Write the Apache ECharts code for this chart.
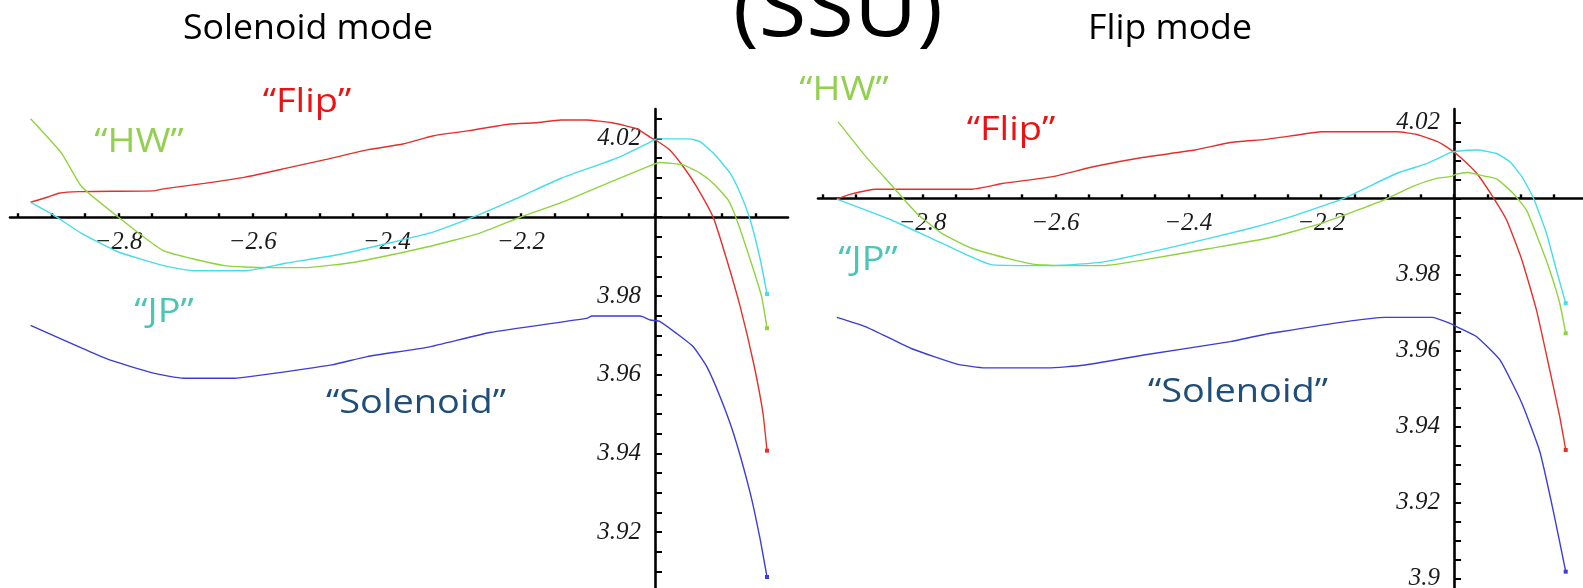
<!DOCTYPE html>
<html><head><meta charset="utf-8">
<script src="https://cdn.jsdelivr.net/npm/echarts@6/dist/echarts.min.js"></script>
<style>html,body{margin:0;padding:0;background:#fff}#c{width:1583px;height:588px}</style>
</head><body><div id="c"></div>
<script>
// ---------- DATA (x, y) ----------
// Left panel: "Solenoid mode"
const solFlip = [[-2.931,4.0038],[-2.904,4.0052],[-2.889,4.0061],[-2.859,4.0065],[-2.748,4.0067],[-2.733,4.0072],[-2.672,4.0086],[-2.611,4.0102],[-2.551,4.0124],[-2.490,4.0147],[-2.429,4.0171],[-2.376,4.0186],[-2.330,4.0207],[-2.277,4.0220],[-2.216,4.0237],[-2.178,4.0240],[-2.140,4.0247],[-2.102,4.0247],[-2.064,4.0240],[-2.026,4.0224],[-2.007,4.0203],[-1.998,4.0195],[-1.978,4.0171],[-1.958,4.0129],[-1.938,4.0078],[-1.913,3.9999],[-1.893,3.9892],[-1.873,3.9773],[-1.853,3.9629],[-1.839,3.9502],[-1.833,3.9407]];
const solJP = [[-2.931,4.0038],[-2.897,4.0006],[-2.855,3.9959],[-2.802,3.9913],[-2.733,3.9877],[-2.688,3.9864],[-2.611,3.9864],[-2.551,3.9883],[-2.475,3.9904],[-2.398,3.9934],[-2.330,3.9963],[-2.269,4.0002],[-2.201,4.0052],[-2.140,4.0099],[-2.056,4.0151],[-2.0,4.0197],[-1.9975,4.0199],[-1.948,4.0199],[-1.933,4.0192],[-1.913,4.0163],[-1.888,4.0112],[-1.873,4.0061],[-1.858,3.9993],[-1.843,3.9892],[-1.833,3.9805]];
const solHW = [[-2.931,4.0250],[-2.885,4.0163],[-2.855,4.0078],[-2.800,4.0000],[-2.733,3.9915],[-2.642,3.9877],[-2.581,3.9872],[-2.520,3.9872],[-2.444,3.9887],[-2.338,3.9925],[-2.262,3.9959],[-2.201,4.0000],[-2.140,4.0037],[-2.056,4.0097],[-2.007,4.0131],[-1.9925,4.0139],[-1.958,4.0133],[-1.933,4.0112],[-1.913,4.0086],[-1.891,4.0044],[-1.878,3.9993],[-1.858,3.9892],[-1.841,3.9798],[-1.833,3.9718]];
const solSol = [[-2.931,3.9725],[-2.817,3.9640],[-2.748,3.9604],[-2.703,3.9591],[-2.627,3.9591],[-2.596,3.9597],[-2.482,3.9625],[-2.429,3.9646],[-2.338,3.9670],[-2.246,3.9707],[-2.102,3.9743],[-2.094,3.9749],[-2.022,3.9749],[-2.007,3.9739],[-1.9925,3.9735],[-1.968,3.9705],[-1.943,3.9671],[-1.923,3.9621],[-1.903,3.9544],[-1.883,3.9451],[-1.858,3.9299],[-1.843,3.9180],[-1.833,3.9086]];
// Right panel: "Flip mode"
const flpFlip = [[-2.929,3.9998],[-2.908,4.0011],[-2.870,4.0024],[-2.725,4.0024],[-2.680,4.0039],[-2.604,4.0057],[-2.543,4.0083],[-2.467,4.0108],[-2.390,4.0127],[-2.337,4.0147],[-2.284,4.0155],[-2.238,4.0166],[-2.200,4.0175],[-2.086,4.0175],[-2.056,4.0168],[-2.025,4.0149],[-2.006,4.0129],[-1.991,4.0109],[-1.966,4.0066],[-1.941,4.0002],[-1.921,3.9943],[-1.898,3.9838],[-1.876,3.9706],[-1.856,3.9548],[-1.841,3.9426],[-1.832,3.9338]];
const flpJP = [[-2.929,3.9998],[-2.847,3.9943],[-2.771,3.9882],[-2.695,3.9825],[-2.604,3.9823],[-2.527,3.9833],[-2.421,3.9873],[-2.314,3.9918],[-2.238,3.9956],[-2.166,4.0000],[-2.086,4.0066],[-2.040,4.0092],[-2.006,4.0120],[-1.996,4.0124],[-1.966,4.0127],[-1.936,4.0118],[-1.916,4.0096],[-1.898,4.0057],[-1.881,4.0002],[-1.861,3.9908],[-1.846,3.9811],[-1.832,3.9724]];
const flpHW = [[-2.927,4.0201],[-2.885,4.0109],[-2.847,4.0035],[-2.809,3.9961],[-2.771,3.9908],[-2.725,3.9868],[-2.672,3.9842],[-2.634,3.9827],[-2.596,3.9823],[-2.527,3.9823],[-2.467,3.9838],[-2.368,3.9868],[-2.276,3.9897],[-2.200,3.9934],[-2.105,3.9996],[-2.063,4.0031],[-2.025,4.0053],[-2.006,4.0057],[-1.996,4.0064],[-1.979,4.0068],[-1.956,4.0059],[-1.936,4.0051],[-1.911,4.0013],[-1.891,3.9969],[-1.871,3.9882],[-1.856,3.9811],[-1.841,3.9724],[-1.832,3.9645]];
const flpSol = [[-2.929,3.9687],[-2.885,3.9662],[-2.817,3.9605],[-2.748,3.9564],[-2.706,3.9554],[-2.611,3.9554],[-2.558,3.9561],[-2.467,3.9588],[-2.337,3.9623],[-2.276,3.9645],[-2.105,3.9687],[-2.033,3.9687],[-2.006,3.9671],[-1.991,3.9658],[-1.966,3.9636],[-1.931,3.9575],[-1.898,3.9461],[-1.871,3.9334],[-1.851,3.9180],[-1.832,3.9018]];

// tick labels
const xTickLabels = [-2.8, -2.6, -2.4, -2.2];
const yTickLabelsLeft = [4.02, 3.98, 3.96, 3.94, 3.92];
const yTickLabelsRight = [4.02, 3.98, 3.96, 3.94, 3.92, 3.9];

// text
const mainTitle = '(SSU)';
const panelTitles = ['Solenoid mode', 'Flip mode'];
const seriesNames = ['\u201cFlip\u201d', '\u201cHW\u201d', '\u201cJP\u201d', '\u201cSolenoid\u201d'];

// ---------- CHART ----------
const X0 = -2, Y0 = 4; // axes cross at (-2, 4)
const COLORS = {flip:'#e2302b', jp:'#44dde9', hw:'#8fd43e', sol:'#3d3dd4'};
const LABEL_COLORS = {flip:'#ee1111', hw:'#92d050', jp:'#4cc4b6', sol:'#1f4e79'};
const GRIDS = [
  {left:10, top:109, width:778, height:479, containLabel:false, outerBoundsMode:'none'},
  {left:818, top:109, width:765, height:479, containLabel:false, outerBoundsMode:'none'}
];

function shift(arr){ return arr.map(p => [p[0] - X0, p[1] - Y0]); }
function range(a, b, step){ const out=[]; for(let k=Math.ceil(a/step - 1e-9); k*step<=b+1e-9; k++){ out.push(+(k*step).toFixed(4)); } return out; }

const tickFont = {fontFamily:'Liberation Serif', fontStyle:'italic', fontSize:25, color:'#1a1a1a'};

function xAxisCfg(gi, min, max){
  const ticks = range(min, max, 0.05);
  return {
    type:'value', gridIndex:gi, position:'bottom', min:min - X0, max:max - X0,
    axisLine:{show:true, onZero:false, lineStyle:{color:'#000', width:2.6}},
    axisTick:{show:true, inside:true, length:4, lineStyle:{color:'#000', width:2.4},
      customValues: ticks.map(v => v - X0)},
    axisLabel:{show:true, margin:13, ...tickFont,
      customValues: xTickLabels.map(v => v - X0),
      formatter: v => (v + X0).toFixed(1).replace('-', '\u2212')},
    splitLine:{show:false}
  };
}
function yAxisCfg(gi, min, max, labels){
  const ticks = range(min, max, 0.005);
  return {
    type:'value', gridIndex:gi, position:'left', min:min - Y0, max:max - Y0,
    axisLine:{show:true, onZero:false, lineStyle:{color:'#000', width:2.6}},
    axisTick:{show:true, inside:true, length:7, lineStyle:{color:'#000', width:2},
      customValues: ticks.map(v => v - Y0)},
    axisLabel:{show:true, margin:14, ...tickFont,
      customValues: labels.map(v => v - Y0),
      formatter: v => String(Number((v + Y0).toFixed(3)))},
    splitLine:{show:false}
  };
}
function lineSeries(name, data, color, gi){
  const d = shift(data);
  return {
    type:'line', name, xAxisIndex:gi, yAxisIndex:gi, silent:true,
    data: d.map((p,i) => i === d.length-1 ? {value:p, symbol:'rect', symbolSize:4, itemStyle:{color}} : {value:p, symbol:'none'}),
    showSymbol:true, symbol:'none', smooth:0.15,
    lineStyle:{color, width:1.4}, itemStyle:{color}, z:3
  };
}
function txt(text, cx, cy, size, color, sx){
  return {type:'text', x:cx, y:cy, scaleX:sx, scaleY:1, originX:0, originY:0, silent:true,
    style:{text, x:0, y:0, fill:color, font:'normal ' + size + 'px "Open Sans"', textAlign:'center', textVerticalAlign:'middle'}};
}

const chart = echarts.init(document.getElementById('c'), null, {renderer:'canvas'});
chart.setOption({
  animation:false,
  backgroundColor:'#ffffff',
  grid: GRIDS,
  xAxis:[ xAxisCfg(0, -2.9617, -1.8017), xAxisCfg(1, -2.9573, -1.8060) ],
  yAxis:[ yAxisCfg(0, 3.9058, 4.0275, yTickLabelsLeft), yAxisCfg(1, 3.8975, 4.0235, yTickLabelsRight) ],
  series:[
    lineSeries(seriesNames[0], solFlip, COLORS.flip, 0),
    lineSeries(seriesNames[2], solJP, COLORS.jp, 0),
    lineSeries(seriesNames[1], solHW, COLORS.hw, 0),
    lineSeries(seriesNames[3], solSol, COLORS.sol, 0),
    lineSeries(seriesNames[0], flpFlip, COLORS.flip, 1),
    lineSeries(seriesNames[2], flpJP, COLORS.jp, 1),
    lineSeries(seriesNames[1], flpHW, COLORS.hw, 1),
    lineSeries(seriesNames[3], flpSol, COLORS.sol, 1)
  ],
  graphic:[
    txt(mainTitle, 838, 13, 82, '#000', 1.06),
    txt(panelTitles[0], 308, 29, 34, '#000', 1.05),
    txt(panelTitles[1], 1170, 29, 34, '#000', 1.05),
    txt(seriesNames[0], 307, 103, 33, LABEL_COLORS.flip, 1.15),
    txt(seriesNames[1], 139, 143, 33, LABEL_COLORS.hw, 1.15),
    txt(seriesNames[2], 164, 313, 33, LABEL_COLORS.jp, 1.15),
    txt(seriesNames[3], 416, 404, 33, LABEL_COLORS.sol, 1.15),
    txt(seriesNames[1], 844, 91, 33, LABEL_COLORS.hw, 1.15),
    txt(seriesNames[0], 1011, 131, 33, LABEL_COLORS.flip, 1.15),
    txt(seriesNames[2], 868, 261, 33, LABEL_COLORS.jp, 1.15),
    txt(seriesNames[3], 1238, 393, 33, LABEL_COLORS.sol, 1.15)
  ]
});

// Move each pair of axes so that they cross at (X0, Y0), using the library's own scale.
const upd = {xAxis:[], yAxis:[]};
GRIDS.forEach((g, gi) => {
  const p = chart.convertToPixel({gridIndex:gi}, [0, 0]);
  upd.xAxis.push({offset: p[1] - (g.top + g.height)});
  upd.yAxis.push({offset: g.left - p[0]});
});
chart.setOption(upd);
</script>
</body></html>
